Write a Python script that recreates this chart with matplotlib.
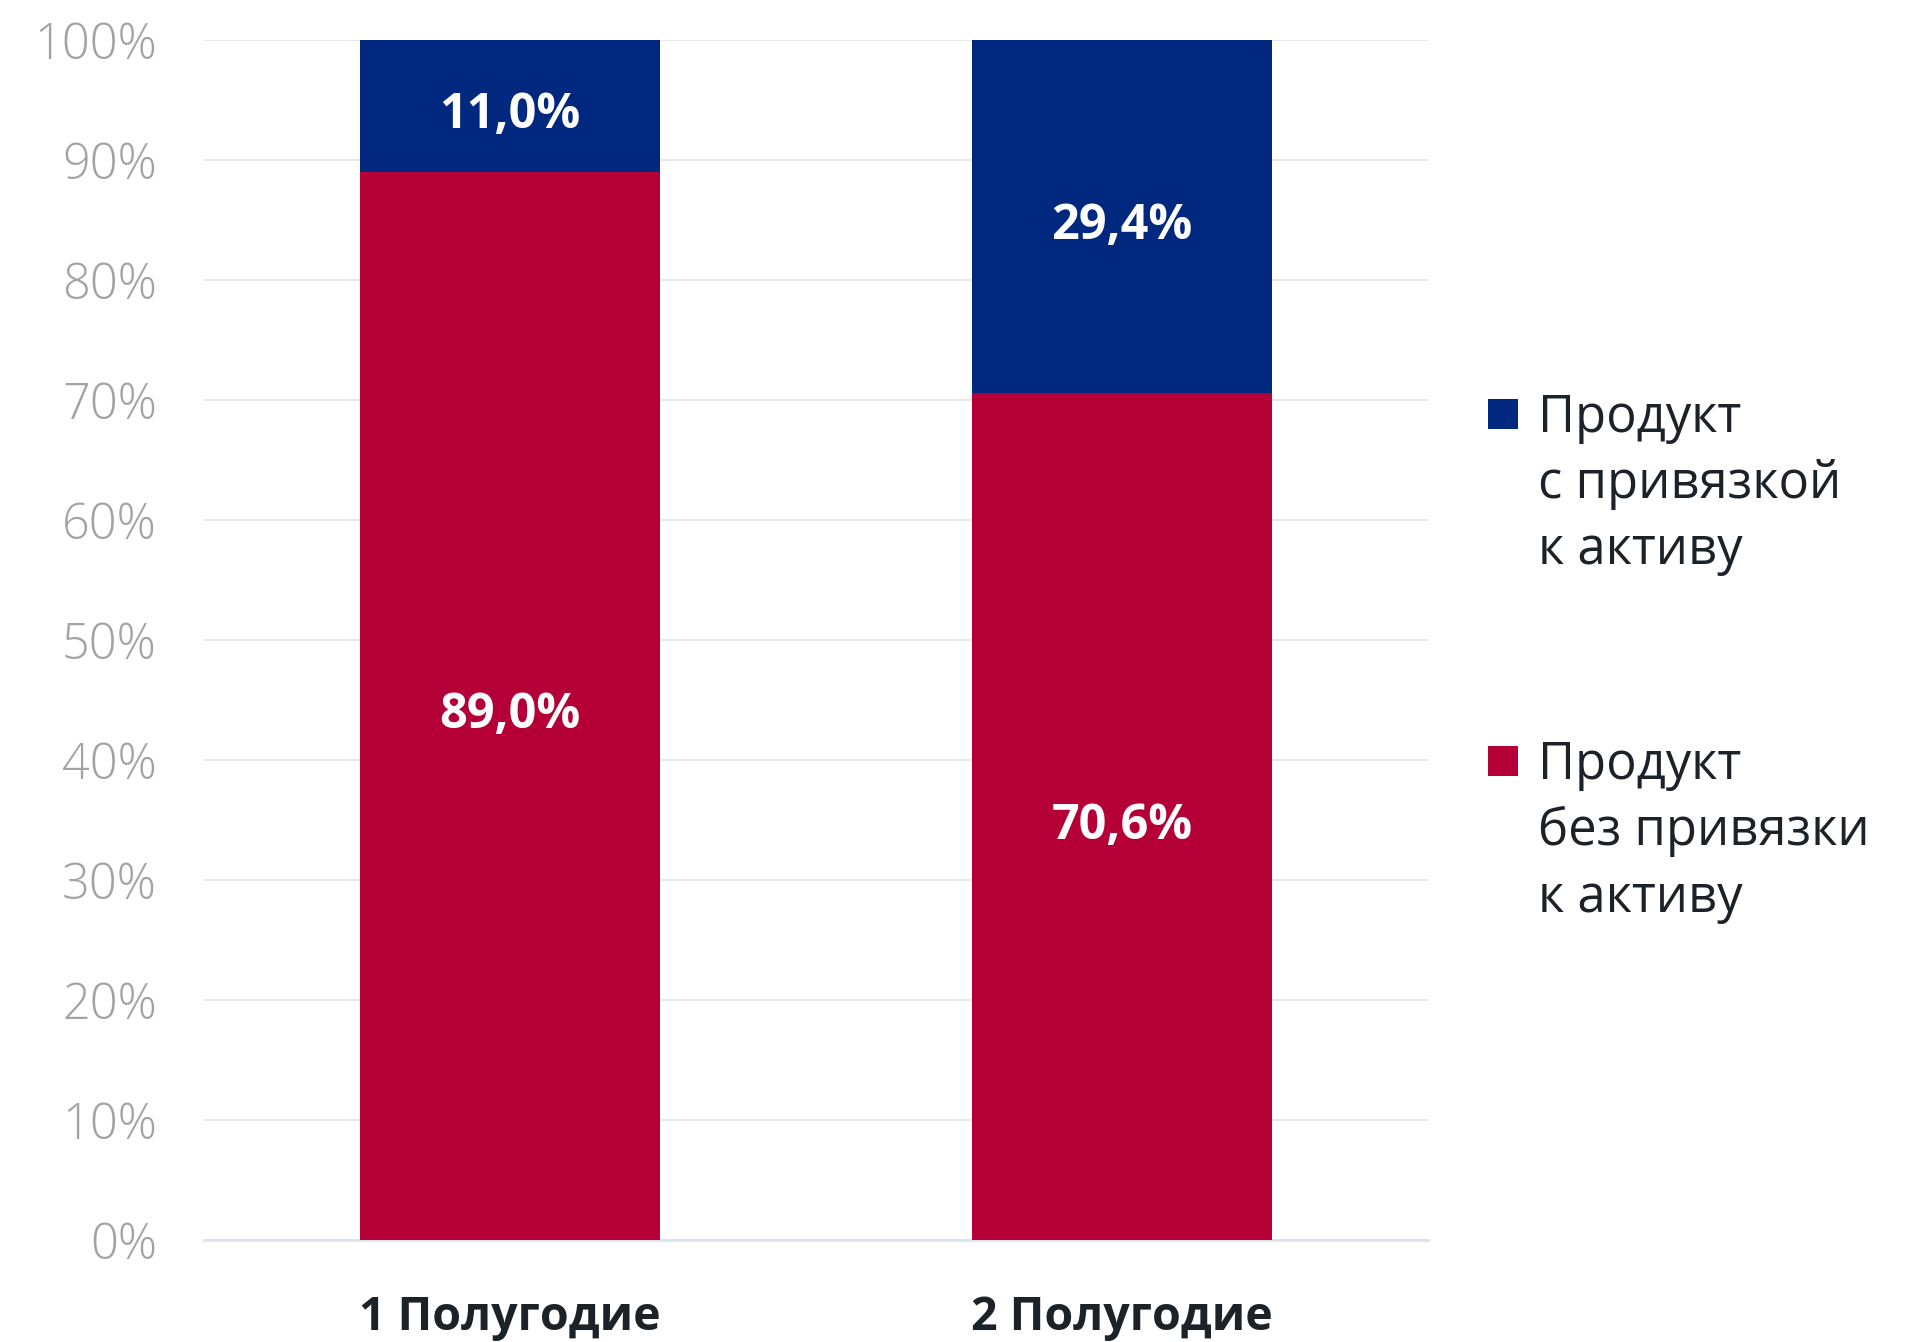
import matplotlib
matplotlib.use("Agg")
import matplotlib.pyplot as plt
from matplotlib.patches import Rectangle
import numpy as np

categories = ["1 Полугодие", "2 Полугодие"]
series_names = ["Продукт\nс привязкой\nк активу", "Продукт\nбез привязки\nк активу"]
without_link = [89.0, 70.6]   # bottom (red)
with_link = [11.0, 29.4]      # top (blue)
yticks = [0, 10, 20, 30, 40, 50, 60, 70, 80, 90, 100]

BLUE = "#00287f"
RED = "#b40037"
DARK = "#1b2228"
GREY = "#a3a3a3"

plt.rcParams['font.family'] = ['Open Sans', 'DejaVu Sans']

fig = plt.figure(figsize=(19.2, 13.42), dpi=100)
ax = fig.add_axes([0.10625, 0.076, 0.6375, 0.8942])

x = np.arange(len(categories))
w = 0.49
b1 = ax.bar(x, without_link, width=w, color=RED, zorder=3)
b2 = ax.bar(x, with_link, width=w, bottom=without_link, color=BLUE, zorder=3)

def fmt(v):
    return f"{v:.1f}%".replace(".", ",")

for xi, v in zip(x, without_link):
    ax.annotate(fmt(v), (xi, v / 2), xytext=(0, -7), textcoords="offset points",
                ha="center", va="center", color="white",
                fontsize=35, fontweight="bold", zorder=4)
for xi, b, v in zip(x, without_link, with_link):
    ax.annotate(fmt(v), (xi, b + v / 2), xytext=(0, -7), textcoords="offset points",
                ha="center", va="center", color="white",
                fontsize=35, fontweight="bold", zorder=4)

ax.set_xlim(-0.5, 1.5)
ax.set_ylim(0, 100)
ax.set_yticks(yticks)
ax.set_yticklabels([f"{t}%" for t in yticks], fontsize=35, color=GREY, fontweight="light")
ax.set_xticks(x)
ax.set_xticklabels(categories, fontsize=33.5, fontweight="bold", color=DARK)
ax.tick_params(axis="y", length=0, pad=34)
ax.tick_params(axis="x", length=0, pad=39)
for s in ["top", "right", "left"]:
    ax.spines[s].set_visible(False)
ax.spines["bottom"].set_color("#dce3ec")
ax.spines["bottom"].set_linewidth(2)
ax.spines["bottom"].set_zorder(2)
ax.yaxis.grid(True, color="#e8e8ec", linewidth=1.5, zorder=0)
ax.set_axisbelow(True)

# legend (manual)
W, H = 1920, 1342
leg_items = [(BLUE, series_names[0], 399), (RED, series_names[1], 746)]
for color, label, ytop in leg_items:
    fig.patches.append(Rectangle((1488 / W, 1 - (ytop + 30) / H), 30 / W, 30 / H,
                                 transform=fig.transFigure, facecolor=color,
                                 edgecolor="none"))
    fig.text(1538 / W, 1 - (ytop - 6) / H, label, ha="left", va="top",
             fontsize=36.5, color=DARK, linespacing=1.39)

fig.savefig("out.png", dpi=100, facecolor="white")
